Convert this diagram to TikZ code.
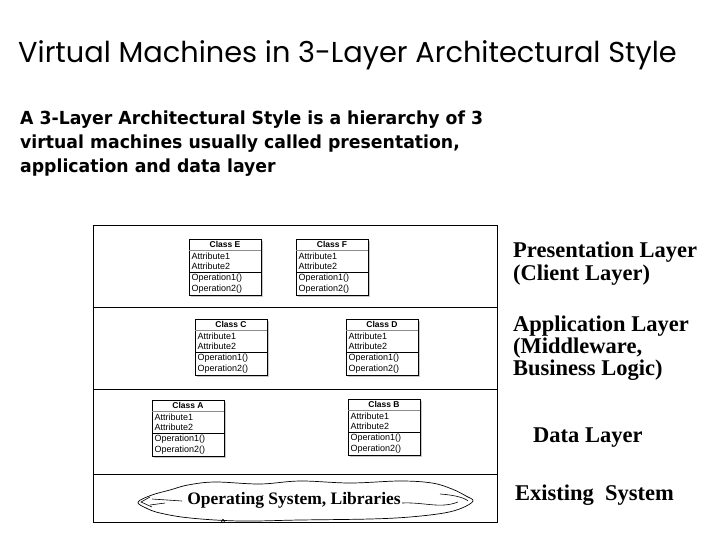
\documentclass[tikz,border=0pt]{standalone}
\usepackage{fontspec}
\setmainfont{Liberation Serif}
\newfontfamily\titlefont{Poppins}
\newfontfamily\subfont[FakeStretch=0.96]{DejaVu Sans}
\newfontfamily\umlfont{Liberation Sans}
\usetikzlibrary{calc}
\tikzset{
  layerbox/.style={draw, line width=1pt, anchor=north west, inner sep=0pt, minimum width=404pt},
  classframe/.style={draw, fill=white, line width=0.8pt, anchor=north west, inner sep=0pt, minimum width=72pt, minimum height=56pt},
  classhead/.style={font=\umlfont\bfseries\fontsize{8.5}{9}\selectfont, inner sep=0pt},
  classline/.style={font=\umlfont\fontsize{9}{10}\selectfont, inner sep=0pt, anchor=west},
  rlabel/.style={font=\bfseries\fontsize{22.5}{23}\selectfont, inner sep=0pt, anchor=base west},
  shadowfill/.style={fill=black!40, opacity=0.55}
}
\newcommand\classbox[4]{%
  \fill[shadowfill] (#2+2,#3+2) rectangle (#2+74,#3+58);
  \node[classframe] (#1) at (#2,#3) {};
  \node[classhead] (#1-t) at (#2+36,#3+5.8) {#4};
  \draw[black!45, line width=0.5pt] (#2,#3+11) -- (#2+72,#3+11);
  \draw[black, line width=0.8pt] (#2,#3+33.5) -- (#2+72,#3+33.5);
  \node[classline] (#1-a1) at (#2+2.5,#3+17) {Attribute1};
  \node[classline] (#1-a2) at (#2+2.5,#3+27.5) {Attribute2};
  \node[classline] (#1-o1) at (#2+2.5,#3+39.5) {Operation1()};
  \node[classline] (#1-o2) at (#2+2.5,#3+50) {Operation2()};
}
\begin{document}
\begin{tikzpicture}[x=1pt,y=-1pt]
\useasboundingbox (0,0) rectangle (720,540);
\fill[white] (0,0) rectangle (720,540);

\node[anchor=base west, inner sep=0pt, font=\titlefont\fontsize{28.8}{32}\selectfont] (title) at (18,63) {Virtual Machines in 3-Layer Architectural Style};

\node[anchor=base west, align=left, inner sep=0pt, font=\subfont\bfseries\fontsize{18}{24}\selectfont] (sub) at (20,173) {A 3-Layer Architectural Style is a hierarchy of 3\\virtual machines usually called presentation,\\application and data layer};

\node[layerbox, minimum height=82pt] (pres) at (93,225) {};
\node[layerbox, minimum height=82pt] (app) at (93,307) {};
\node[layerbox, minimum height=85pt] (data) at (93,389) {};
\node[layerbox, minimum height=48pt] (exist) at (93,474) {};

\classbox{E}{189}{239}{Class E}
\classbox{F}{296}{239}{Class F}
\classbox{C}{195}{319}{Class C}
\classbox{D}{346}{319}{Class D}
\classbox{A}{152}{400}{Class A}
\classbox{B}{348}{399}{Class B}

% cloud
\draw[line width=0.7pt] plot[smooth cycle, tension=0.6] coordinates {
 (138,502) (152,495) (170,490) (188,485) (215,482) (260,484) (300,481) (350,483)
 (400,481) (432,483) (452,489) (466,496) (473,501) (462,508) (444,513) (410,517)
 (370,519) (300,520) (240,521) (190,518) (160,513) (146,508)};
\draw[line width=0.6pt] (150,497) -- (141,502) -- (152,507);
\draw[line width=0.6pt] (152,499) -- (182,501);
\draw[line width=0.6pt] (150,505) -- (165,503);
\draw[line width=0.6pt] (402,503) .. controls (425,502) and (440,509) .. (458,502);
\draw[line width=0.6pt] (440,494) .. controls (455,495) and (465,498) .. (468,501);
\draw[line width=0.6pt] (223,521) circle (1.8);
\node[font=\bfseries\fontsize{17.5}{18}\selectfont, inner sep=0pt, anchor=base] (os) at (294,504) {Operating System, Libraries};

% right labels
\node[rlabel, align=left, font=\bfseries\fontsize{22.5}{23}\selectfont] (lp) at (513,280) {Presentation Layer\\(Client Layer)};
\node[rlabel, align=left, font=\bfseries\fontsize{22.5}{22}\selectfont] (la) at (513,375) {Application Layer\\(Middleware,\\Business Logic)};
\node[rlabel] (ld) at (533,442) {Data Layer};
\node[rlabel] (le) at (515,500) {Existing\ \ System};
\end{tikzpicture}
\end{document}
